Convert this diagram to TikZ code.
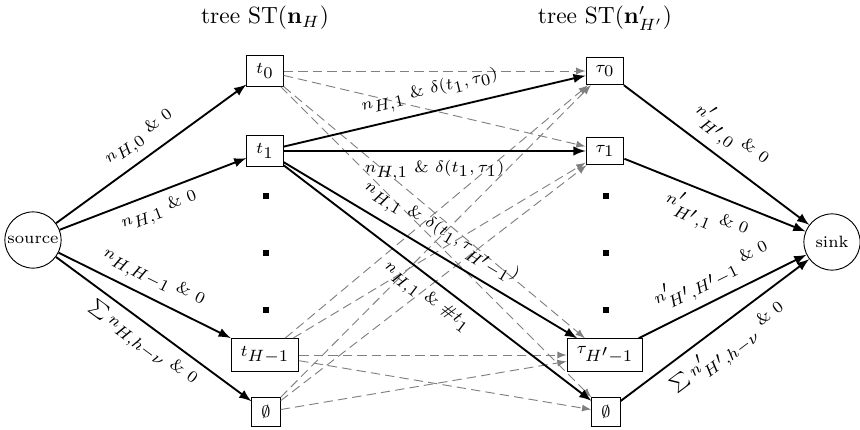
\documentclass[tikz,border=0pt]{standalone}
\usepackage{amsmath,amssymb}
\DeclareMathSizes{7}{7}{7}{7}
\begin{document}
\begin{tikzpicture}[x=0.427pt, y=-0.427pt,
				    vertex/.style={draw, circle, minimum size=24pt, inner sep=0pt,
				    			  font=\scriptsize},
				    state/.style={draw, fill=none, text centered, text=black,
				    			  font=\scriptsize, inner xsep=4pt, inner ysep=3.3pt},
				    dot/.style={fill=black, inner sep=0pt, minimum size=2.6pt},
				    flow/.style={->, >=latex, thick},
				    alt/.style={->, >=latex, gray, dash pattern=on 4pt off 2.2pt},
				    lbl/.style={font=\scriptsize, sloped}]
	\useasboundingbox (0,0) rectangle (860,429);

	\node (h1) at (265,18) {tree $\mathrm{ST}(\mathbf{n}_H)$};
	\node (h2) at (605,18) {tree $\mathrm{ST}(\mathbf{n}'_{H'})$};

	\node[vertex] (src) at (33,240) {source};
	\node[vertex] (snk) at (832,242) {sink};

	\node[state] (t0) at (265,71) {$t_{0}$};
	\node[state] (t1) at (265,151) {$t_{1}$};
	\node[dot] (l1) at (266,196) {};
	\node[dot] (l2) at (266,253) {};
	\node[dot] (l3) at (266,310) {};
	\node[state] (t2) at (265,355) {$t_{H-1}$};
	\node[state] (t3) at (266,412) {$\emptyset$};

	\node[state] (u0) at (605,71) {$\tau_{0}$};
	\node[state] (u1) at (605,151) {$\tau_{1}$};
	\node[dot] (r1) at (606,196) {};
	\node[dot] (r2) at (606,253) {};
	\node[dot] (r3) at (606,310) {};
	\node[state] (u2) at (605,355) {$\tau_{H'-1}$};
	\node[state] (u3) at (606,412) {$\emptyset$};

	% dashed alternatives
	\path[alt] 	(t0)  edge   (u0);
	\path[alt] 	(t0)  edge   (u1);
	\path[alt] 	(t0)  edge   (u2);
	\path[alt] 	(t0)  edge   (u3);
	\path[alt] 	(t2)  edge   (u0);
	\path[alt] 	(t2)  edge   (u1);
	\path[alt] 	(t2)  edge   (u2);
	\path[alt] 	(t2)  edge   (u3);
	\path[alt] 	(t3)  edge   (u0);
	\path[alt] 	(t3)  edge   (u1);
	\path[alt] 	(t3)  edge   (u2);

	\path[flow] 	(src)  edge  node[lbl, above] {$n_{H,0}$ \& $0$}  (t0);
	\path[flow] 	(src)  edge  node[lbl, below] {$n_{H,1}$ \& $0$}  (t1);
	\path[flow] 	(src)  edge  node[lbl, above] {$n_{H,H-1}$ \& $0$}  (t2);
	\path[flow] 	(src)  edge  node[lbl, below] {$\sum n_{H,h-\nu}$ \& $0$}  (t3);

	\path[flow] 	(t1)  edge  node[lbl, above] {$n_{H,1}$ \& $\delta(t_1,\tau_0)$}  (u0);
	\path[flow] 	(t1)  edge  node[lbl, below] {$n_{H,1}$ \& $\delta(t_1,\tau_1)$}  (u1);
	\path[flow] 	(t1)  edge  node[lbl, above] {$n_{H,1}$ \& $\delta(t_1,\tau_{H'-1})$}  (u2);
	\path[flow] 	(t1)  edge  node[lbl, below] {$n_{H,1}$ \& $\#t_1$}  (u3);

	\path[flow] 	(u0)  edge  node[lbl, above] {$n'_{H',0}$ \& $0$}  (snk);
	\path[flow] 	(u1)  edge  node[lbl, below] {$n'_{H',1}$ \& $0$}  (snk);
	\path[flow] 	(u2)  edge  node[lbl, above] {$n'_{H',H'-1}$ \& $0$}  (snk);
	\path[flow] 	(u3)  edge  node[lbl, below] {$\sum n'_{H',h-\nu}$ \& $0$}  (snk);

\end{tikzpicture}
\end{document}
